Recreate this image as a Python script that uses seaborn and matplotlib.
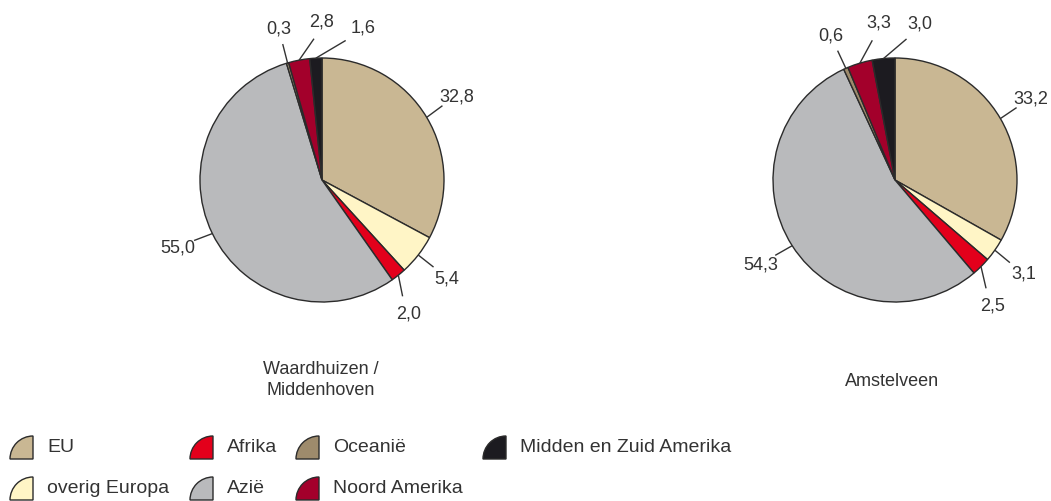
import numpy as np
import matplotlib.pyplot as plt
import seaborn as sns
from matplotlib import font_manager
from matplotlib.patches import Wedge

# data
regions = ["EU", "overig Europa", "Afrika", "Azië", "Oceanië",
           "Noord Amerika", "Midden en Zuid Amerika"]
waardhuizen = [32.8, 5.4, 2.0, 55.0, 0.3, 2.8, 1.6]
amstelveen = [33.2, 3.1, 2.5, 54.3, 0.6, 3.3, 3.0]
waardhuizen_labels = ["32,8", "5,4", "2,0", "55,0", "0,3", "2,8", "1,6"]
amstelveen_labels = ["33,2", "3,1", "2,5", "54,3", "0,6", "3,3", "3,0"]
captions = ["Waardhuizen /\nMiddenhoven", "Amstelveen"]

colors = ["#C9B793", "#FFF5C6", "#E3001B", "#B9BABC", "#9E8B6C",
          "#A3002B", "#1C1B20"]

# label directions (degrees) so the small slices at the top don't overlap
label_angles = [
    [32, -38, -57, -155, 106, 90, 75],
    [31, -36, -52, -148, 114, 96, 81],
]

sns.set_theme(style="white")
names = {f.name for f in font_manager.fontManager.ttflist}
if "Liberation Sans Narrow" in names:
    plt.rcParams["font.family"] = ["Liberation Sans Narrow", "DejaVu Sans"]
    fs, fs_leg, fs_cap = 15, 16, 15
else:
    plt.rcParams["font.family"] = ["Liberation Sans", "DejaVu Sans"]
    fs, fs_leg, fs_cap = 13, 14, 13
txt_color = "#333333"

W, H = 1051, 502
fig = plt.figure(figsize=(W / 100, H / 100), dpi=100)

centers = [(322, 181), (895, 181)]
R = 122
half = 1.5 * R
series = [waardhuizen, amstelveen]
labels = [waardhuizen_labels, amstelveen_labels]

for k in range(2):
    cx, cy = centers[k]
    ax = fig.add_axes([(cx - half) / W, (H - cy - half) / H, 2 * half / W, 2 * half / H])
    vals = series[k]
    wedges, _ = ax.pie(vals, colors=colors, startangle=90, counterclock=False,
                       radius=1, normalize=True,
                       wedgeprops=dict(edgecolor="#2b2b2b", linewidth=1.0))
    total = sum(vals)
    cum = np.cumsum([0] + list(vals))
    for i, v in enumerate(vals):
        mid = 90 - (cum[i] + v / 2) / total * 360
        mid = (mid + 180) % 360 - 180
        la = label_angles[k][i]
        d = (la - mid + 180) % 360 - 180
        ea = mid + 0.7 * d
        x0, y0 = np.cos(np.radians(mid)), np.sin(np.radians(mid))
        x1, y1 = 1.16 * np.cos(np.radians(ea)), 1.16 * np.sin(np.radians(ea))
        ax.plot([x0, x1], [y0, y1], color="#333333", lw=1.0, solid_capstyle="butt")
        ax.text(1.3 * np.cos(np.radians(la)), 1.3 * np.sin(np.radians(la)),
                labels[k][i], ha="center", va="center", fontsize=fs, color=txt_color)
    ax.set_xlim(-1.5, 1.5)
    ax.set_ylim(-1.5, 1.5)
    ax.set_aspect("equal")
    ax.axis("off")

fig.text(321 / W, 1 - 380 / H, captions[0], ha="center", va="center",
         fontsize=fs_cap, color=txt_color, linespacing=1.3)
fig.text(892 / W, 1 - 382 / H, captions[1], ha="center", va="center",
         fontsize=fs_cap, color=txt_color)

# legend with quarter-pie markers
lax = fig.add_axes([0, 0, 1, 1])
lax.set_xlim(0, W)
lax.set_ylim(0, H)
lax.axis("off")
leg_pos = [(33, 460), (33, 501), (213, 460), (213, 501), (319, 460), (319, 501), (506, 460)]
for name, col, (mx, my) in zip(regions, colors, leg_pos):
    lax.add_patch(Wedge((mx, H - my), 23, 90, 180, facecolor=col,
                        edgecolor="#2b2b2b", linewidth=1.0))
    lax.text(mx + 14, H - my + 12, name, ha="left", va="center",
             fontsize=fs_leg, color=txt_color)

plt.savefig("out.png", dpi=100)
